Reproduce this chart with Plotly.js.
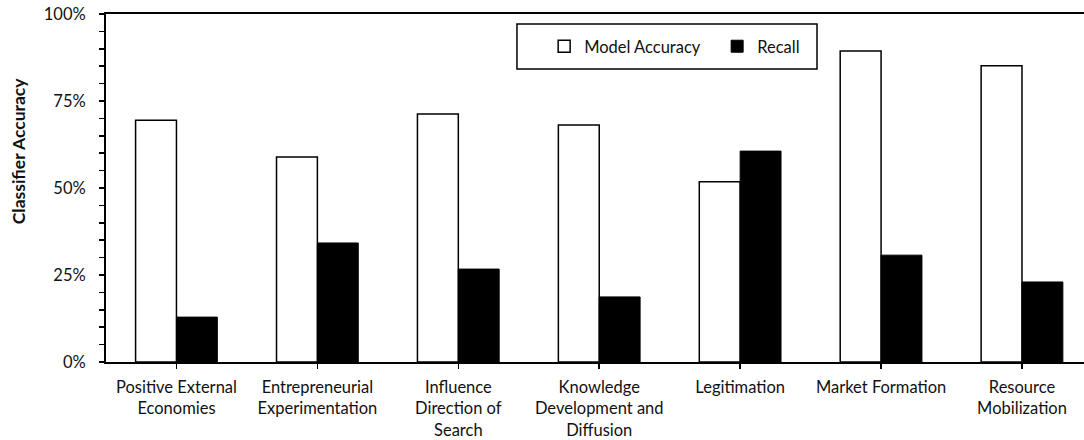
<!DOCTYPE html>
<html>
<head>
<meta charset="utf-8">
<script src="https://cdn.plot.ly/plotly-3.0.1.min.js"></script>
<style>
  html, body { margin: 0; padding: 0; background: #fff; }
  #chart { width: 1084px; height: 440px; }
</style>
</head>
<body>
<div id="chart"></div>
<script>
// Technology innovation system functions
const categories = [
  'Positive External<br>Economies',
  'Entrepreneurial<br>Experimentation',
  'Influence<br>Direction of<br>Search',
  'Knowledge<br>Development and<br>Diffusion',
  'Legitimation',
  'Market Formation',
  'Resource<br>Mobilization'
];

// Classifier scores per function (fractions of 1)
const modelAccuracy = [0.695, 0.589, 0.713, 0.681, 0.518, 0.894, 0.851];
const recall        = [0.129, 0.342, 0.267, 0.187, 0.606, 0.307, 0.230];

const yTickVals = [0, 0.25, 0.5, 0.75, 1];
const yTickText = ['0%', '25%', '50%', '75%', '100%'];
const yTitle = 'Classifier Accuracy';

const FONT = 'Lato, "Open Sans", sans-serif';
const INK = '#111';

const traces = [
  {
    type: 'bar',
    name: 'Model Accuracy',
    x: categories,
    y: modelAccuracy,
    marker: { color: '#ffffff', line: { color: '#000', width: 1.5 } },
    hoverinfo: 'x+y'
  },
  {
    type: 'bar',
    name: 'Recall',
    x: categories,
    y: recall,
    marker: { color: '#000000', line: { color: '#000', width: 1 } },
    hoverinfo: 'x+y'
  }
];

const layout = {
  width: 1084,
  height: 440,
  margin: { l: 106, r: 0, t: 14, b: 78 },
  paper_bgcolor: '#fff',
  plot_bgcolor: '#fff',
  font: { family: FONT, size: 16.5, color: INK },
  barmode: 'group',
  bargap: 0.42,
  bargroupgap: 0,
  showlegend: true,
  legend: {
    orientation: 'h',
    x: 0.448, xanchor: 'left',
    y: 0.9066, yanchor: 'middle',
    bgcolor: 'rgba(0,0,0,0)',
    borderwidth: 0,
    entrywidth: 128,
    font: { family: FONT, size: 16.5, color: INK },
    traceorder: 'normal'
  },
  xaxis: {
    type: 'category',
    range: [-0.5, 6.44],
    showline: true,
    linecolor: '#000',
    linewidth: 2,
    mirror: true,
    ticks: 'outside',
    ticklen: 5,
    tickwidth: 1.5,
    tickcolor: '#000',
    ticklabelstandoff: 4,
    showgrid: false,
    zeroline: false,
    fixedrange: true,
    tickfont: { family: FONT, size: 16.5, color: INK }
  },
  yaxis: {
    range: [0, 1],
    tickvals: yTickVals,
    ticktext: yTickText,
    showline: true,
    linecolor: '#000',
    linewidth: 2,
    ticks: 'outside',
    ticklen: 5,
    tickwidth: 1.5,
    tickcolor: '#000',
    ticklabelstandoff: 10,
    minor: { dtick: 0.05, ticks: 'outside', ticklen: 5, tickwidth: 1.5, tickcolor: '#000', showgrid: false },
    showgrid: false,
    zeroline: false,
    fixedrange: true,
    tickfont: { family: FONT, size: 16.5, color: INK }
  },
  annotations: [
    {
      // vertical axis label
      text: '<b>' + yTitle + '</b>',
      xref: 'paper', yref: 'paper',
      x: -0.0898, y: 0.606,
      xanchor: 'center', yanchor: 'middle',
      textangle: -90,
      showarrow: false,
      font: { family: FONT, size: 17.5, color: INK }
    }
  ],
  shapes: [
    {
      type: 'rect', xref: 'paper', yref: 'paper',
      x0: 0.4202, x1: 0.727, y0: 0.842, y1: 0.971,
      line: { color: '#000', width: 1.5 },
      fillcolor: 'rgba(0,0,0,0)',
      layer: 'above'
    }
  ]
};

Plotly.newPlot('chart', traces, layout, { displayModeBar: false, staticPlot: true });
</script>
</body>
</html>
